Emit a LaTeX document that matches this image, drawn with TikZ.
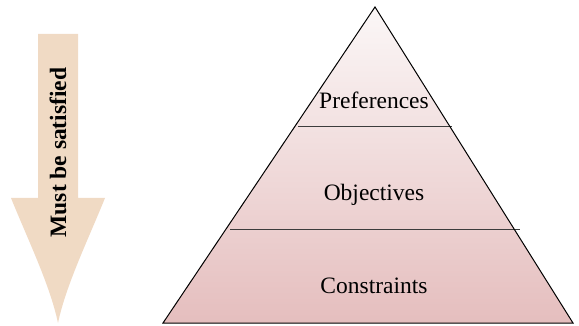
\documentclass[tikz,border=0pt]{standalone}
\usepackage{fontspec}
\setmainfont{Liberation Serif}
\definecolor{arrowfill}{RGB}{240,218,196}
\definecolor{pyrtop}{RGB}{251,247,247}
\definecolor{pyrbot}{RGB}{229,190,190}
\definecolor{divline}{RGB}{60,60,60}
\tikzset{
  lbl/.style={font=\fontsize{23.5}{27}\selectfont, inner sep=0pt, anchor=base},
  divider/.style={draw=divline, line width=0.9pt},
}
\begin{document}
\begin{tikzpicture}[x=1pt,y=-1pt]
\useasboundingbox (0,0) rectangle (579,326);
% arrow
\fill[arrowfill] (38,34) -- (78,34) -- (78,198) -- (105,198)
  .. controls (88,240) and (66,285) .. (58,323)
  .. controls (50,285) and (28,240) .. (11,198) -- (38,198) -- cycle;
\node[lbl, font=\fontsize{23.5}{27}\selectfont\bfseries, rotate=90] (must) at (66,152.5) {Must be satisfied};
% pyramid
\coordinate (apex) at (375,7);
\coordinate (bl) at (163,323);
\coordinate (br) at (573,323);
\shade[top color=pyrtop, bottom color=pyrbot] (apex) -- (bl) -- (br) -- cycle;
\coordinate (l1a) at (298,126);
\coordinate (l1b) at (452,126);
\coordinate (l2a) at (230,229);
\coordinate (l2b) at (520,229);
\draw[divider] (l1a) -- (l1b);
\draw[divider] (l2a) -- (l2b);
\draw[black, line width=1pt, line join=miter] (apex) -- (bl) -- (br) -- cycle;
\node[lbl] (pref) at (374,109) {Preferences};
\node[lbl] (obj) at (374,201) {Objectives};
\node[lbl] (cons) at (374,293) {Constraints};
\end{tikzpicture}
\end{document}
